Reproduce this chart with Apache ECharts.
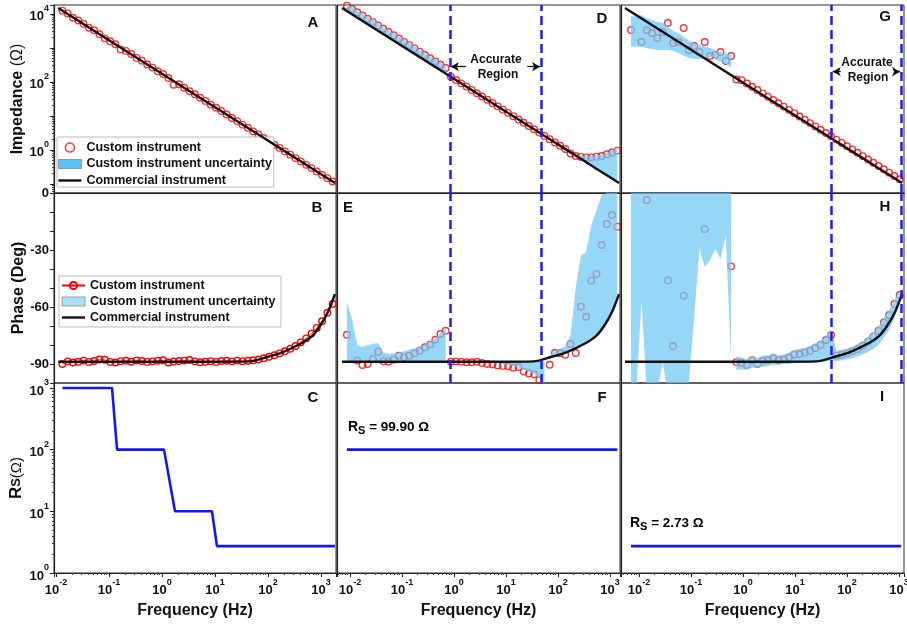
<!DOCTYPE html>
<html><head><meta charset="utf-8">
<script src="https://cdn.jsdelivr.net/npm/echarts@6/dist/echarts.min.js"></script>
<style>html,body{margin:0;padding:0;background:#fff}#c{width:907px;height:624px}</style>
</head><body><div id="c"></div>
<script>
// ---------------- data ----------------
// measurement frequencies (Hz) for each column of panels
const freqA = [0.0132,0.0166,0.0209,0.0263,0.0331,0.0417,0.0525,0.0661,0.0832,0.105,
  0.132,0.166,0.209,0.263,0.331,0.417,0.525,0.661,0.832,1.05,
  1.32,1.66,2.09,2.63,3.31,4.17,5.25,6.61,8.32,10.5,
  13.2,16.6,20.9,26.3,33.1,41.7,52.5,66.1,83.2,105,
  132,166,209,263,331,417,525,661,832,1050,
  1320,1660];
const freqD = [0.00871,0.01096,0.0138,0.01738,0.02188,0.02754,0.03467,0.04365,0.05495,0.06918,
  0.0871,0.1096,0.138,0.1738,0.2188,0.2754,0.3467,0.4365,0.5495,0.6918,
  0.871,1.096,1.38,1.738,2.188,2.754,3.467,4.365,5.495,6.918,
  8.71,10.96,13.8,17.38,21.88,27.54,34.67,43.65,54.95,69.18,
  87.1,109.6,138,173.8,218.8,275.4,346.7,436.5,549.5,691.8,
  871,1096,1380];
const freqG = [0.00702,0.00885,0.01119,0.01413,0.01782,0.0225,0.02844,0.03589,0.04529,0.05723,
  0.07228,0.0912,0.1153,0.1455,0.1837,0.2323,0.2931,0.3698,0.4667,0.5902,
  0.7447,0.9397,1.189,1.5,1.892,2.393,3.02,3.811,4.808,6.081,
  7.674,9.683,12.25,15.45,19.5,24.66,31.12,39.26,49.55,62.66,
  79.07,99.77,126.2,159.2,200.9,254.1,320.6,404.6,510.5,645.7,
  814.7,1028];

// commercial instrument
const cfreqA = [0.011,0.1,1,10,45,96,192,400,676,955,1350,1830];
const cfreqD = [0.00702,0.0671,0.702,7.33,34.0,73.3,149,316,537,767,1092,1490];
const cfreqG = [0.00538,0.0515,0.538,5.62,26.0,56.2,114,243,412,588,838,1142];
const commZ  = [14800,1680,174,18.0,4.09,1.94,0.98,0.475,0.283,0.202,0.144,0.106];
const commPh = [-88.8,-88.8,-88.8,-88.8,-88.6,-86.3,-83.7,-79.5,-75.3,-70,-62.6,-53.2];

// custom instrument impedance / phase
const custZ_A = [12400,10300,7700,6350,5100,3900,3300,2500,1900,1560,
  1280,900,813,660,505,420,322,262,205,170,
  130,82,85,67,53,43,34,27.5,21.3,17.2,
  13.9,10.9,8.6,7.0,5.5,4.45,3.5,2.82,2.22,1.79,
  1.41,1.14,0.9,0.72,0.57,0.457,0.362,0.29,0.232,0.183,
  0.147,0.117];
const custPh_B = [-90,-88.6,-89.2,-88.8,-88.2,-88.9,-88.4,-87.6,-87.8,-88.9,
  -89.2,-88.5,-88.3,-88.8,-88.1,-88.4,-88.9,-88.6,-88.3,-88.0,
  -89.2,-88.7,-88.4,-88.2,-87.9,-88.6,-89.1,-88.8,-88.5,-88.9,
  -88.4,-88.3,-88.6,-88.2,-88.5,-88.3,-88.0,-87.6,-87.0,-86.2,
  -85.4,-84.4,-83.3,-82.0,-80.5,-78.6,-76.5,-74.0,-71.0,-67.5,
  -63.0,-58.4];
const custZ_D = [17400,13900,11140,8910,7140,5710,4570,3660,2930,2350,
  1880,1500,1205,964,773,618,494,396,317,254,
  141,113,90.3,72.3,57.9,46.3,37.1,29.7,23.8,19.0,
  15.2,12.2,9.77,7.82,6.26,5.01,4.01,3.21,2.57,
  2.06,1.65,1.32,1.06,0.78,0.66,0.62,0.60,0.60,0.63,0.66,0.74,0.83,0.95];
const custPh_E = [-74.6,null,-88.2,-90.5,-90,-87.4,-83.5,-88.6,-88.8,-87.7,
  -85.6,-86.5,-85.6,-84.4,-83,-81.2,-79.8,-77.2,-74.2,-72.5,
  -88.8,-88.6,-88.8,-89.1,-89.1,-88.8,-89.5,-90,-90.2,-90.8,
  -91,-91.2,-92,-91.6,-94,-95,-95.4,-98.4,null,
  -90.4,-84.2,-84.2,-85.1,-79.5,-84.2,-59.8,-65.1,-46.1,-42.6,-27.4,-16.3,-11.6,-17.7];
const custZ_G = [3350,null,1490,3350,2730,1950,2920,5370,1390,1490,
  3840,863,1130,755,1490,575,615,755,410,575,
  117,112,89.7,71.6,57.3,45.8,36.6,29.3,23.4,18.7,
  15.0,12.0,9.57,7.66,6.11,4.89,3.91,3.13,2.5,
  2.0,1.6,1.28,1.02,0.817,0.652,0.521,0.417,0.333,0.267,0.213,0.17,0.136];
const custPh_H = [null,null,null,-3.7,null,null,null,-46,-80.5,null,
  -54,null,null,null,-19,null,null,null,null,-38.6,
  -89,-89.5,-90.5,-88,-90,-88.4,-88,-87,-88,-87.5,
  -86.5,-85,-84.7,-84,-83,-81.6,-80,-77.4,-74.7,
  -85.6,-85.1,-84.4,-83.3,-82.1,-80.4,-78.2,-75.6,-72.5,-68.1,-64.2,-58.4,-53.7];

// uncertainty bands (lower / upper edges), each on a slice of its column's frequencies
const bandD1Lo = [12800,10300,8250,6600,5290,4230,3390,2710,2170,1740,1390,1110,893,714,573,458,366,293,235,188];
const bandD1Hi = [20000,16000,12800,10200,8200,6600,5250,4200,3370,2700,2160,1730,1390,1110,890,710,570,455,365,292];
const bandD2Lo = [1.06,0.845,0.678,0.542,0.434,0.347,0.278,0.223,0.178,0.143,0.114];
const bandD2Hi = [1.06,0.85,0.72,0.68,0.66,0.66,0.69,0.73,0.83,0.97,1.2];
const bandE1Lo = [-89.3,-89.3,-89.3,-89.3,-89.3,-89.3,-89.3,-89.3,-89.3,-89.3,-89.3,-89.3,-89.3,-89.3,-89.3,-89.3,-89.3,-89.3,-89.3,-89.3];
const bandE1Hi = [-57.5,-66.5,-80,-81,-80,-79.5,-79,-84,-84.6,-84.4,-84,-83.3,-82.5,-81.7,-80.8,-79.6,-78.2,-76.3,-73.5,-71.5];
const bandE2Lo = [-89.5,-90,-90.6,-91.2,-92,-93,-94,-95.5,-97.5,-100];
const bandE2Hi = [-88.8,-88.8,-88.8,-88.8,-88.8,-88.8,-88.8,-88.8,-88.8,-88.8];
const bandE3Lo = [-86.5,-85.7,-84.8,-84,-82.7,-81.4,-80.3,-78.7,-77,-75,-71.5,-67,-62.6,-56];
const bandE3Hi = [-85.5,-83,-82,-80.5,-75,-50,-33,-31,-17,-9,-1,0,0,0];
const bandG1Lo = [1080,1080,1080,968,925,863,863,863,807,705,596,502,476,460,502,548,454,391,335,255];
const bandG1Hi = [8240,8810,9060,7400,6730,5750,5560,4100,3130,2730,2080,1640,1340,1210,1090,990,863,755,690,615];
const bandH1Lo = [-105,-105,-57,-105,-105,-105,-89,-105,-105,-105,-105,-100,-65,-29.5,-39,-35.4,-29.3,-34.7,-22.5,-89];
const bandH1Hi = [0,0,0,0,0,0,0,0,0,0,0,0,0,0,0,0,0,0,0,0];
const bandH2Lo = [-93,-93,-93,-92,-92,-91.5,-91,-90.5,-90.5,-90,-90,-89.5,-89.5,-89.5,-89,-89,-89,-88.5,-88,
  -88.5,-88,-87.5,-87,-86,-85,-83.5,-82,-80,-76,-72,-66,-58];
const bandH2Hi = [-86,-86.5,-87.5,-85.5,-87,-85.5,-85.5,-84.5,-85.5,-85,-84,-82.5,-82,-81.5,-80.5,-79,-77.5,-75,-72,
  -83,-82.5,-82,-81,-79.5,-78,-75.5,-73,-70,-65.5,-61.5,-56,-51];

// series resistance
const rsFreqC = [0.0132,0.114,0.142,1.09,1.76,8.78,10.9,1830];
const rsC = [1000,1000,100,100,10,10,2.73,2.73];
const rsFreqF = [0.00871,1380];
const rsF = [99.9,99.9];
const rsFreqI = [0.00702,1100];
const rsI = [2.73,2.73];

// accurate-region limits and arrows
const dashD = [0.838,48.5];
const dashG = [49.2,1092];
const arrowD = [[1.68,0.87],[25.7,45.1]], arrowDY = 279;
const arrowG = [[75.7,53.1],[801,1045]], arrowGY = 199;

// axis ranges and tick labels
const xRange = [[0.009162,1919],[0.005623,1556],[0.004508,1247]];
const zRange = [0.0537,18197];
const phaseRange = [-100,0];
const rsRange = [1,1202];
const zLabelExps = [0,2,4];
const phaseLabels = [0,-30,-60,-90];
const rsLabelExps = [0,1,2,3];
const freqLabelExps = [-2,-1,0,1,2,3];

// ---------------- style ----------------
const FONT = "'Liberation Sans', Arial, Helvetica, sans-serif";
const INK = '#111';
const RED = '#ff0000';
const BAND = 'rgba(110,200,245,0.72)';
const RSBLUE = '#1414ff';
const DASHC = '#1c1cff';
const LINEICON = 'path://M0,0L24,0L24,2.5L0,2.5Z';
const colLeft = [54,337,621], colWidth = [282,283,283];
const rowTop = [5,193,383], rowHeight = [188,190,190];

const richPow = {
  b:{fontFamily:FONT,fontWeight:'bold',fontSize:13,color:INK,lineHeight:19,verticalAlign:'bottom'},
  s:{fontFamily:FONT,fontWeight:'bold',fontSize:9,color:INK,lineHeight:11,verticalAlign:'top'}
};
function powLabel(allowed){
  return function(v){
    const e = Math.log10(v), r = Math.round(e);
    if (Math.abs(e-r) > 1e-6 || allowed.indexOf(r) < 0) return '';
    return '{b|10}{s|' + r + '}';
  };
}
const pairs = (xs, ys) => xs.map((x,i)=>[x, ys[i]]).filter(p => p[1] !== null && p[1] !== undefined);

function scatter(name, gi, xs, ys, extra){
  return Object.assign({type:'scatter', name, xAxisIndex:gi, yAxisIndex:gi, data:pairs(xs,ys),
    symbol:'circle', symbolSize:6.5, silent:true, z:2,
    itemStyle:{color:'rgba(255,255,255,0)', borderColor:RED, borderWidth:1.4}}, extra||{});
}
function line(name, gi, xs, ys, color, width, extra){
  return Object.assign({type:'line', name, xAxisIndex:gi, yAxisIndex:gi, data:pairs(xs,ys),
    symbol:'none', silent:true, z:4, lineStyle:{color, width}, itemStyle:{color}}, extra||{});
}
function band(name, gi, xs, lo, hi){
  return {type:'custom', name, xAxisIndex:gi, yAxisIndex:gi, z:3, silent:true,
    itemStyle:{color:BAND},
    data:[[xs[0], hi[0]]],
    renderItem:function(params, api){
      const pts = [];
      for (let i=0;i<xs.length;i++) pts.push(api.coord([xs[i], hi[i]]));
      for (let i=xs.length-1;i>=0;i--) pts.push(api.coord([xs[i], lo[i]]));
      const cs = params.coordSys;
      return {type:'polygon', shape:{points:pts}, style:{fill:BAND},
        clipPath:{type:'rect', shape:{x:cs.x, y:cs.y, width:cs.width, height:cs.height}}};
    }};
}
function dashML(xs){
  return {silent:true, symbol:'none', animation:false, label:{show:false},
    lineStyle:{color:DASHC, width:2.5, type:[9,5]}, emphasis:{disabled:true},
    data: xs.map(v=>({xAxis:v}))};
}
function arrowML(pairsX, y){
  return {silent:true, animation:false, label:{show:false}, symbol:['none','arrow'], symbolSize:[7,8],
    lineStyle:{color:INK, width:1.3, type:'solid'}, emphasis:{disabled:true},
    data: pairsX.map(p=>[{coord:[p[0], y]},{coord:[p[1], y]}])};
}

// ---------------- layout ----------------
const grids = [], xAxes = [], yAxes = [];
for (let r=0;r<3;r++){
  for (let c=0;c<3;c++){
    const gi = r*3+c;
    grids.push({left:colLeft[c], top:rowTop[r], width:colWidth[c], height:rowHeight[r],
      show:true, borderColor:'#2a2a2a', borderWidth:1, backgroundColor:'transparent',
      containLabel:false, outerBoundsMode:'none'});
    const bottom = r===2;
    xAxes.push({type:'log', logBase:10, gridIndex:gi, min:xRange[c][0], max:xRange[c][1],
      axisLine:{show:true, lineStyle:{color:'#222', width:1.2}},
      axisTick:{show:bottom, inside:false, length:4, lineStyle:{color:'#222', width:1}},
      minorTick:{show:bottom, splitNumber:9, length:2, lineStyle:{color:'#444', width:1}},
      axisLabel:{show:bottom, margin:5, showMinLabel:false, showMaxLabel:false,
        formatter:powLabel(freqLabelExps), rich:richPow},
      splitLine:{show:false}, minorSplitLine:{show:false},
      name: bottom ? 'Frequency (Hz)' : '', nameLocation:'middle', nameGap:30,
      nameTextStyle:{fontFamily:FONT, fontWeight:'bold', fontSize:16, color:INK}});
    const first = c===0;
    const base = {gridIndex:gi,
      axisLine:{show:true, lineStyle:{color:'#222', width:1.2}},
      splitLine:{show:false}, minorSplitLine:{show:false}};
    if (r===0){
      yAxes.push(Object.assign(base, {type:'log', logBase:10, min:zRange[0], max:zRange[1],
        axisTick:{show:first, length:4, lineStyle:{color:'#222'}},
        minorTick:{show:first, splitNumber:9, length:2, lineStyle:{color:'#444'}},
        axisLabel:{show:first, margin:5, showMinLabel:false, showMaxLabel:false,
          formatter:powLabel(zLabelExps), rich:richPow},
        name: first ? '{b|Impedance }{n|(Ω)}' : '', nameLocation:'middle', nameRotate:90, nameGap:23,
        nameTextStyle:{rich:{b:{fontFamily:FONT,fontWeight:'bold',fontSize:16,color:INK},
                             n:{fontFamily:FONT,fontWeight:'normal',fontSize:16,color:INK}}}}));
    } else if (r===1){
      yAxes.push(Object.assign(base, {type:'value', min:phaseRange[0], max:phaseRange[1], interval:10,
        axisTick:{show:first, length:4, lineStyle:{color:'#222'}},
        axisLabel:{show:first, margin:5, fontFamily:FONT, fontWeight:'bold', fontSize:13, color:INK,
          formatter:function(v){ return phaseLabels.indexOf(v) >= 0 ? String(v) : ''; }},
        name: first ? 'Phase (Deg)' : '', nameLocation:'middle', nameRotate:90, nameGap:26,
        nameTextStyle:{fontFamily:FONT, fontWeight:'bold', fontSize:16, color:INK}}));
    } else {
      yAxes.push(Object.assign(base, {type:'log', logBase:10, min:rsRange[0], max:rsRange[1],
        axisTick:{show:first, length:4, lineStyle:{color:'#222'}},
        minorTick:{show:first, splitNumber:9, length:2, lineStyle:{color:'#444'}},
        axisLabel:{show:first, margin:5, showMaxLabel:false,
          formatter:powLabel(rsLabelExps), rich:richPow},
        name: first ? '{b|R}{s|S}{n|(Ω)}' : '', nameLocation:'middle', nameRotate:90, nameGap:29,
        nameTextStyle:{rich:{b:{fontFamily:FONT,fontWeight:'bold',fontSize:17,color:INK},
                             s:{fontFamily:FONT,fontWeight:'bold',fontSize:13,color:INK},
                             n:{fontFamily:FONT,fontWeight:'normal',fontSize:15,color:INK}}}}));
    }
  }
}

// ---------------- series ----------------
const series = [];
// A (grid 0)
series.push(scatter('Custom instrument', 0, freqA, custZ_A));
series.push(line('Commercial instrument', 0, cfreqA, commZ, INK, 2.4));
// D (grid 1)
series.push(scatter('Custom D', 1, freqD, custZ_D, {markLine:arrowML(arrowD, arrowDY)}));
series.push(band('Custom instrument uncertainty', 1, freqD.slice(0,20), bandD1Lo, bandD1Hi));
series.push(band('Band D2', 1, freqD.slice(42,53), bandD2Lo, bandD2Hi));
series.push(line('Commercial D', 1, cfreqD, commZ, INK, 2.4, {markLine:dashML(dashD)}));
// G (grid 2)
series.push(scatter('Custom G', 2, freqG, custZ_G, {markLine:arrowML(arrowG, arrowGY)}));
series.push(band('Band G1', 2, freqG.slice(0,20), bandG1Lo, bandG1Hi));
series.push(line('Commercial G', 2, cfreqG, commZ, INK, 2.4, {markLine:dashML(dashG)}));
// B (grid 3)
series.push({type:'line', name:'Custom instrument ', xAxisIndex:3, yAxisIndex:3, data:pairs(freqA, custPh_B),
  symbol:'circle', symbolSize:6.5, showSymbol:true, showAllSymbol:true, silent:true, z:2,
  lineStyle:{color:RED, width:0.8}, itemStyle:{color:'rgba(255,255,255,0)', borderColor:RED, borderWidth:1.4}});
series.push(line('Commercial instrument ', 3, cfreqA, commPh, INK, 2.4, {smooth:0.3}));
// E (grid 4)
series.push(scatter('Custom E', 4, freqD, custPh_E));
series.push(band('Custom instrument uncertainty ', 4, freqD.slice(0,20), bandE1Lo, bandE1Hi));
series.push(band('Band E2', 4, freqD.slice(29,39), bandE2Lo, bandE2Hi));
series.push(band('Band E3', 4, freqD.slice(39,53), bandE3Lo, bandE3Hi));
series.push(line('Commercial E', 4, cfreqD, commPh, INK, 2.4, {smooth:0.3, markLine:dashML(dashD)}));
// H (grid 5)
series.push(scatter('Custom H', 5, freqG, custPh_H));
series.push(band('Band H1', 5, freqG.slice(0,20), bandH1Lo, bandH1Hi));
series.push(band('Band H2', 5, freqG.slice(20,52), bandH2Lo, bandH2Hi));
series.push(line('Commercial H', 5, cfreqG, commPh, INK, 2.4, {smooth:0.3, markLine:dashML(dashG)}));
// C, F, I (grids 6-8)
series.push(line('Rs C', 6, rsFreqC, rsC, RSBLUE, 2.6));
series.push(line('Rs F', 7, rsFreqF, rsF, RSBLUE, 2.6));
series.push(line('Rs I', 8, rsFreqI, rsI, RSBLUE, 2.6));

// ---------------- annotations ----------------
const letters = [['A',313,23],['D',602,18.5],['G',885,17],['B',317,208],['E',348,208],['H',885,207],['C',313,398],['F',602,398],['I',882,397]];
const txt = (t, x, y, size, align) => ({type:'text', x, y, z:100, silent:true,
  style:{text:t, fill:INK, font:'bold '+size+'px '+FONT, align:align||'center', verticalAlign:'middle',
         textAlign:align||'center', textVerticalAlign:'middle'}});
const rsRich = {r:{fontFamily:FONT,fontWeight:'bold',fontSize:14,color:INK,lineHeight:18,verticalAlign:'middle'},
                s:{fontFamily:FONT,fontWeight:'bold',fontSize:11,color:INK,lineHeight:13,verticalAlign:'bottom'},
                t:{fontFamily:FONT,fontWeight:'bold',fontSize:13.5,color:INK,lineHeight:18,verticalAlign:'middle'}};
const rsTxt = (val, x, y) => ({type:'text', x, y, z:100, silent:true,
  style:{text:'{r|R}{s|S}{t| = ' + val + ' Ω}', rich:rsRich, align:'left', verticalAlign:'middle',
         textAlign:'left', textVerticalAlign:'middle'}});
const graphic = letters.map(l => txt(l[0], l[1], l[2], 15))
  .concat([txt('Accurate',496,59.5,12), txt('Region',498,75,12),
           txt('Accurate',867,62.5,12), txt('Region',868,78,12),
           rsTxt('99.90', 348, 427), rsTxt('2.73', 630, 523.5)]);

const legendText = {fontFamily:FONT, fontWeight:'bold', fontSize:12.5, color:INK};
const option = {
  animation:false,
  backgroundColor:'#fff',
  grid:grids, xAxis:xAxes, yAxis:yAxes, series, graphic,
  legend:[
    {left:57, top:137, orient:'vertical', itemWidth:23, itemHeight:9, itemGap:3.5, padding:[4,2,0,1],
     backgroundColor:'#fff', borderColor:'#bdbdbd', borderWidth:1, selectedMode:false, textStyle:legendText,
     data:[{name:'Custom instrument', icon:'circle', itemStyle:{color:'#fff', borderColor:RED, borderWidth:1.5}},
           {name:'Custom instrument uncertainty', icon:'rect', itemStyle:{color:'#56c5f5', borderColor:'#8a8a8a', borderWidth:0.8}},
           {name:'Commercial instrument', icon:LINEICON, itemStyle:{color:INK, borderWidth:0}}]},
    {left:59, top:276, orient:'vertical', itemWidth:23, itemHeight:9, itemGap:3, padding:[3,2,3,2],
     backgroundColor:'#fff', borderColor:'#bdbdbd', borderWidth:1, selectedMode:false, textStyle:legendText,
     data:[{name:'Custom instrument '},
           {name:'Custom instrument uncertainty ', icon:'rect', itemStyle:{color:'#a8e0fa', borderColor:'#8a8a8a', borderWidth:0.8}},
           {name:'Commercial instrument ', icon:LINEICON, itemStyle:{color:INK, borderWidth:0}}]}
  ]
};
const chart = echarts.init(document.getElementById('c'), null, {renderer:'canvas'});
chart.setOption(option);
</script></body></html>
